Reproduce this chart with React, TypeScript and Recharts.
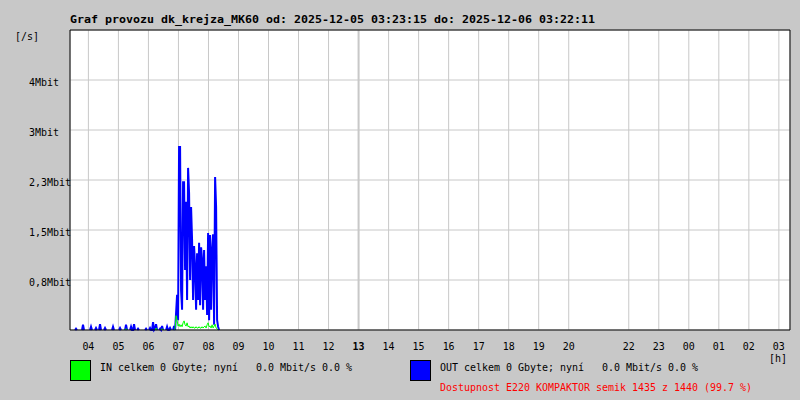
import React from "react";
import {
  LineChart,
  Line,
  XAxis,
  YAxis,
  CartesianGrid,
  ReferenceLine,
} from "recharts";

const _ = null;
// Samples every 2 minutes, starting at 03:23:15 (minute 0 of the window), Mbit/s
const outMbit = [
  _, _, _, _, _, 0, 0.02, 0, _, _,
  _, _, 0, 0.08, 0, _, _, _, _, _,
  0, 0.05, 0, _, _, 0, 0.03, 0, _, 0,
  0.09, 0, _, _, 0, 0.03, 0, _, _, _,
  _, _, 0, 0.05, 0, _, _, _, _, 0,
  0.03, 0, _, _, _, 0, 0.08, 0, _, _,
  0, 0.05, 0, 0, 0.09, 0, _, 0, 0.02, 0,
  _, _, _, _, _, 0, 0.02, 0, _, 0,
  0.03, 0, 0, 0.12, 0, 0.02, 0.09, 0, _, 0,
  0.02, 0, 0.06, 0, _, _, 0, 0.05, 0, 0,
  0.03, 0, _, 0, 0.06, 0, 0.26, 0.54, 0.15, 2.81,
  2.81, 0.61, 0.31, 2.27, 2.27, 0.92, 1.97, 0.46, 2.49, 2.1,
  0.77, 1.89, 1.38, 0.46, 1.29, 0.97, 0.31, 1.18, 0.46, 1.34,
  0.38, 1.27, 1.08, 0.31, 1.23, 0.46, 0.98, 0.23, 1.49, 0.15,
  1.46, 0.31, 1.23, 1.47, 0.08, 2.35, 1.89, 0.15, 0.05, 0,
  _,
];
const inMbit = [
  _, _, _, _, _, _, _, _, _, _,
  _, _, _, _, _, _, _, _, _, _,
  _, _, _, _, _, _, _, _, _, _,
  _, _, _, _, _, _, _, _, _, _,
  _, _, _, _, _, _, _, _, _, _,
  _, _, _, _, _, 0, 0.02, 0, _, _,
  _, _, _, _, _, _, _, _, _, _,
  _, _, _, _, _, _, _, _, _, _,
  _, _, _, _, _, 0, 0.03, 0, _, _,
  _, 0, 0.02, 0, _, _, _, _, _, _,
  _, _, _, _, 0, 0.02, 0.22, 0.15, 0.06, 0.09,
  0.05, 0.08, 0.05, 0.11, 0.14, 0.08, 0.06, 0.11, 0.05, 0.06,
  0.03, 0.05, 0.03, 0.05, 0.03, 0.03, 0.05, 0.03, 0.03, 0.05,
  0.03, 0.03, 0.05, 0.03, 0.05, 0.06, 0.03, 0.08, 0.11, 0.05,
  0.06, 0.03, 0.08, 0.03, 0.06, 0.09, 0.03, 0.02, 0, _,
  _,
];
const SAMPLE_MIN = 2;

const hours = [4, 5, 6, 7, 8, 9, 10, 11, 12, 13, 14, 15, 16, 17, 18, 19, 20, 22, 23, 0, 1, 2, 3];
const boldHour = 13;
const START_MIN_PAST_HOUR = 23.25;
const WINDOW_MIN = 1439;

const yTicks = [0.768, 1.536, 2.304, 3.072, 3.84];
const yTickLabels = ["0,8Mbit", "1,5Mbit", "2,3Mbit", "3Mbit", "4Mbit"];
const Y_MAX = 4.608;

const title = "Graf provozu dk_krejza_MK60 od: 2025-12-05 03:23:15 do: 2025-12-06 03:22:11";
const unitLabel = "[/s]";
const hourUnit = "[h]";
const inLegend = "IN celkem 0 Gbyte; nyní   0.0 Mbit/s 0.0 %";
const outLegend = "OUT celkem 0 Gbyte; nyní   0.0 Mbit/s 0.0 %";
const availability = "Dostupnost E220 KOMPAKTOR semik 1435 z 1440 (99.7 %)";

const data = outMbit.map((v, i) => ({ t: i * SAMPLE_MIN, out: v, in: inMbit[i] }));
const hourToT = (h: number) => ((((h - 3 + 24) % 24) || 24) * 60) - START_MIN_PAST_HOUR;
const hourTicks = hours.map(hourToT);

const FONT = "'DejaVu Sans Mono', 'Liberation Mono', monospace";
const BG = "#c8c8c8";
const GRID = "#c8c8c8";

const T = ({ x, y, text, cw = 6, size = 11, bold = false, fill = "#000", anchor = "start" }: any) => (
  <text
    x={x}
    y={y}
    fontFamily={FONT}
    fontSize={size}
    fontWeight={bold ? "bold" : "normal"}
    fill={fill}
    textAnchor={anchor}
    textLength={text.length * cw}
    lengthAdjust="spacingAndGlyphs"
    xmlSpace="preserve"
    style={{ whiteSpace: "pre" }}
  >
    {text}
  </text>
);

const XTick = (props: any) => {
  const { x, payload } = props;
  const idx = hourTicks.indexOf(payload.value);
  const h = hours[idx];
  const label = String(h).padStart(2, "0");
  return <T x={x} y={350} text={label} anchor="middle" bold={h === boldHour} />;
};

const YTick = (props: any) => {
  const { y, payload } = props;
  const idx = yTicks.indexOf(payload.value);
  return <T x={29} y={y + 5.5} text={yTickLabels[idx]} />;
};

export default function App() {
  return (
    <div style={{ position: "absolute", left: 0, top: 0, width: 800, height: 400, background: BG }}>
      <LineChart
        width={800}
        height={400}
        data={data}
        margin={{ top: 30, right: 10, bottom: 0, left: 0 }}
        style={{ position: "absolute", left: 0, top: 0 }}
      >
        <CartesianGrid stroke={GRID} strokeWidth={1} fill="#ffffff" fillOpacity={1} />
        <XAxis
          dataKey="t"
          type="number"
          domain={[0, WINDOW_MIN]}
          ticks={hourTicks}
          interval={0}
          height={70}
          axisLine={{ stroke: "#000" }}
          tickLine={false}
          tick={<XTick />}
        />
        <YAxis
          type="number"
          domain={[0, Y_MAX]}
          ticks={yTicks}
          interval={0}
          width={70}
          axisLine={{ stroke: "#000" }}
          tickLine={false}
          tick={<YTick />}
        />
        <ReferenceLine x={hourToT(boldHour)} stroke={GRID} strokeWidth={2} />
        <Line
          dataKey="out"
          type="linear"
          stroke="#0000ff"
          strokeWidth={2}
          dot={false}
          connectNulls={false}
          isAnimationActive={false}
        />
        <Line
          dataKey="in"
          type="linear"
          stroke="#00ff00"
          strokeWidth={1}
          dot={false}
          connectNulls={false}
          isAnimationActive={false}
        />
        <ReferenceLine y={Y_MAX} stroke="#000" strokeWidth={1} />
        <ReferenceLine x={WINDOW_MIN} stroke="#000" strokeWidth={1} />
      </LineChart>
      <svg
        width={800}
        height={400}
        style={{ position: "absolute", left: 0, top: 0, pointerEvents: "none" }}
      >
        <T x={70} y={23} text={title} cw={7} bold />
        <T x={15} y={39.5} text={unitLabel} />
        <T x={778} y={362} text={hourUnit} anchor="middle" size={10} />
        <rect x={70.5} y={360.5} width={20} height={20} fill="#00ff00" stroke="#000" />
        <T x={100} y={371} text={inLegend} />
        <rect x={410.5} y={360.5} width={20} height={20} fill="#0000ff" stroke="#000" />
        <T x={440} y={371} text={outLegend} />
        <T x={440} y={390.5} text={availability} fill="#ff0000" />
      </svg>
    </div>
  );
}
